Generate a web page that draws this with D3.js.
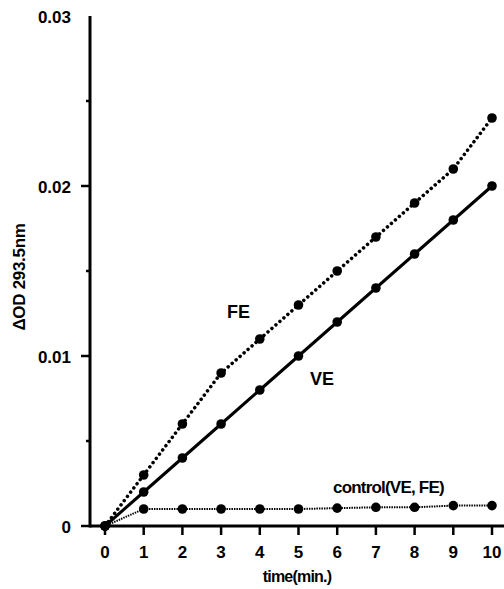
<!DOCTYPE html>
<html>
<head>
<meta charset="utf-8">
<script src="https://cdn.jsdelivr.net/npm/d3@7"></script>
<style>
  body { margin: 0; background: #fff; }
  text { font-family: "Liberation Sans", Arial, sans-serif; font-weight: bold; fill: #000; }
</style>
</head>
<body>
<svg width="504" height="589"></svg>
<script>
// data
var times = [0, 1, 2, 3, 4, 5, 6, 7, 8, 9, 10];
var fe = [0, 0.003, 0.006, 0.009, 0.011, 0.013, 0.015, 0.017, 0.019, 0.021, 0.024];
var ve = [0, 0.002, 0.004, 0.006, 0.008, 0.010, 0.012, 0.014, 0.016, 0.018, 0.020];
var control = [0, 0.001, 0.001, 0.001, 0.001, 0.001, 0.00105, 0.0011, 0.0011, 0.0012, 0.0012];
var yMajor = [0, 0.01, 0.02, 0.03];
var yMinor = [0.005, 0.015, 0.025];

var svg = d3.select("svg");

var x = d3.scaleLinear().domain([0, 10]).range([105, 492]);
var y = d3.scaleLinear().domain([0, 0.03]).range([526, 16]);
var axisX = 90;

// x axis line + ticks
svg.append("line")
    .attr("x1", axisX).attr("x2", 504)
    .attr("y1", y(0)).attr("y2", y(0))
    .attr("stroke", "#000").attr("stroke-width", 3);

svg.append("g").selectAll("line")
    .data(times)
  .enter().append("line")
    .attr("x1", function(d) { return x(d); })
    .attr("x2", function(d) { return x(d); })
    .attr("y1", y(0)).attr("y2", y(0) + 9)
    .attr("stroke", "#000").attr("stroke-width", 2.5);

svg.append("g").selectAll("text")
    .data(times)
  .enter().append("text")
    .attr("x", function(d) { return x(d); })
    .attr("y", 558)
    .attr("text-anchor", "middle")
    .attr("font-size", 17)
    .text(function(d) { return d; });

svg.append("text")
    .attr("x", 297).attr("y", 582)
    .attr("text-anchor", "middle")
    .attr("font-size", 16)
    .attr("letter-spacing", -0.8)
    .text("time(min.)");

// y axis
svg.append("line")
    .attr("x1", axisX).attr("x2", axisX)
    .attr("y1", y(0.03)).attr("y2", y(0) + 1.5)
    .attr("stroke", "#000").attr("stroke-width", 3);

svg.append("g").selectAll("line")
    .data(yMajor.filter(function(d) { return d < 0.03; }))
  .enter().append("line")
    .attr("x1", axisX - 9).attr("x2", axisX)
    .attr("y1", function(d) { return y(d); })
    .attr("y2", function(d) { return y(d); })
    .attr("stroke", "#000").attr("stroke-width", 2.5);

svg.append("g").selectAll("line")
    .data(yMinor)
  .enter().append("line")
    .attr("x1", axisX - 4).attr("x2", axisX)
    .attr("y1", function(d) { return y(d); })
    .attr("y2", function(d) { return y(d); })
    .attr("stroke", "#000").attr("stroke-width", 2.5);

svg.append("g").selectAll("text")
    .data(yMajor)
  .enter().append("text")
    .attr("x", 71)
    .attr("y", function(d) { return y(d) + 7; })
    .attr("text-anchor", "end")
    .attr("font-size", 17)
    .text(function(d) { return d === 0 ? "0" : d3.format(".2f")(d); });

svg.append("text")
    .attr("transform", "translate(25,277) rotate(-90)")
    .attr("text-anchor", "middle")
    .attr("font-size", 17)
    .attr("letter-spacing", -0.3)
    .text("\u0394OD 293.5nm");

// series
var line = d3.line()
    .x(function(d, i) { return x(times[i]); })
    .y(function(d) { return y(d); });

var series = [
  { vals: control, width: 2, dash: "1.5,1", cap: "butt" },
  { vals: ve, width: 3, dash: null, cap: "round" },
  { vals: fe, width: 3.5, dash: "0.1,5.2", cap: "round" }
];

series.forEach(function(s) {
  svg.append("path")
      .datum(s.vals)
      .attr("d", line)
      .attr("fill", "none")
      .attr("stroke", "#000")
      .attr("stroke-width", s.width)
      .attr("stroke-linecap", s.cap)
      .attr("stroke-dasharray", s.dash);

  svg.append("g").selectAll("circle")
      .data(s.vals)
    .enter().append("circle")
      .attr("cx", function(d, i) { return x(times[i]); })
      .attr("cy", function(d) { return y(d); })
      .attr("r", 4.8)
      .attr("fill", "#000");
});

// labels
svg.append("text").attr("x", 227).attr("y", 318).attr("font-size", 18).text("FE");
svg.append("text").attr("x", 310).attr("y", 385).attr("font-size", 18).text("VE");
svg.append("text").attr("x", 333).attr("y", 493).attr("font-size", 17)
    .attr("letter-spacing", -0.8).text("control(VE, FE)");
</script>
</body>
</html>
